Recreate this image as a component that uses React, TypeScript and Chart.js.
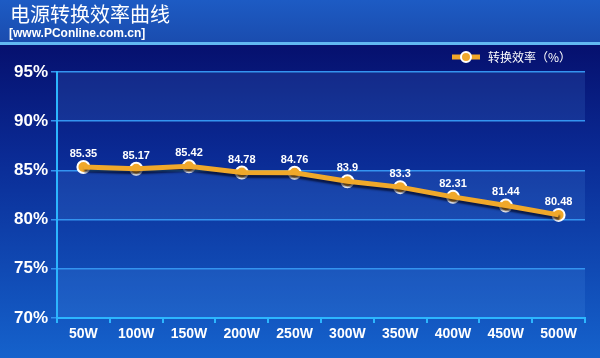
import React, { useEffect, useRef } from "react";
import { Chart, registerables } from "chart.js";

Chart.register(...registerables);

const categories = ["50W", "100W", "150W", "200W", "250W", "300W", "350W", "400W", "450W", "500W"];
const efficiency = [85.35, 85.17, 85.42, 84.78, 84.76, 83.9, 83.3, 82.31, 81.44, 80.48];
const yTicks = [70, 75, 80, 85, 90, 95];
const titleText = "电源转换效率曲线";
const subtitleText = "[www.PConline.com.cn]";
const seriesName = "转换效率（%）";

const LINE_COLOR = "#f0a82a";

const backgroundPlugin = {
  id: "bgPlugin",
  beforeDraw(chart: any) {
    const { ctx, width, height, chartArea } = chart;
    const yScale = chart.scales.y;
    ctx.save();
    const g = ctx.createLinearGradient(0, 44, 0, height);
    g.addColorStop(0, "#06106e");
    g.addColorStop(0.35, "#0a2a94");
    g.addColorStop(1, "#1562cc");
    ctx.fillStyle = g;
    ctx.fillRect(0, 0, width, height);
    // header
    const hg = ctx.createLinearGradient(0, 0, 0, 43);
    hg.addColorStop(0, "#1d5bc4");
    hg.addColorStop(1, "#1a4cae");
    ctx.fillStyle = hg;
    ctx.fillRect(0, 0, width, 42);
    ctx.fillStyle = "#62b8f2";
    ctx.fillRect(0, 42, width, 3);
    // alternating bands
    ctx.fillStyle = "rgba(110,175,255,0.13)";
    for (let i = 0; i < yTicks.length - 1; i++) {
      if ((yTicks.length - 2 - i) % 2 === 0) {
        const y1 = yScale.getPixelForValue(yTicks[i + 1]);
        const y0 = yScale.getPixelForValue(yTicks[i]);
        ctx.fillRect(chartArea.left, y1, chartArea.right - chartArea.left, y0 - y1);
      }
    }
    // titles
    ctx.fillStyle = "#ffffff";
    ctx.textBaseline = "alphabetic";
    ctx.textAlign = "left";
    ctx.font = "20px 'Noto Sans CJK SC'";
    ctx.fillText(titleText, 10, 22);
    ctx.font = "bold 12px 'Liberation Sans', Arial";
    ctx.fillText(subtitleText, 9, 37);
    // legend
    const ly = 57;
    ctx.strokeStyle = LINE_COLOR;
    ctx.lineWidth = 5;
    ctx.beginPath();
    ctx.moveTo(452, ly);
    ctx.lineTo(480, ly);
    ctx.stroke();
    ctx.beginPath();
    ctx.arc(466, ly, 5, 0, Math.PI * 2);
    ctx.fillStyle = LINE_COLOR;
    ctx.fill();
    ctx.lineWidth = 2;
    ctx.strokeStyle = "#ffffff";
    ctx.stroke();
    ctx.fillStyle = "#ffffff";
    ctx.font = "12px 'Noto Sans CJK SC'";
    ctx.textBaseline = "middle";
    ctx.fillText(seriesName, 488, ly);
    ctx.restore();
  },
  beforeDatasetDraw(chart: any, args: any) {
    const ctx = chart.ctx;
    ctx.save();
    if (args.index === 0) {
      ctx.shadowColor = "rgba(0,0,20,0.65)";
      ctx.shadowOffsetX = 1;
      ctx.shadowOffsetY = 3;
      ctx.shadowBlur = 2;
    }
  },
  afterDatasetDraw(chart: any) {
    chart.ctx.restore();
  },
  afterDatasetsDraw(chart: any) {
    const { ctx } = chart;
    const meta = chart.getDatasetMeta(1);
    ctx.save();
    ctx.fillStyle = "#ffffff";
    ctx.font = "bold 11px 'Liberation Sans', Arial";
    ctx.textAlign = "center";
    ctx.textBaseline = "alphabetic";
    meta.data.forEach((pt: any, i: number) => {
      ctx.fillText(String(efficiency[i]), pt.x, pt.y - 10);
    });
    ctx.restore();
  },
};

export default function App() {
  const ref = useRef<HTMLCanvasElement>(null);
  useEffect(() => {
    if (!ref.current) return;
    const chart = new Chart(ref.current, {
      type: "line",
      data: {
        labels: categories,
        datasets: [
          {
            label: seriesName,
            data: efficiency,
            borderColor: LINE_COLOR,
            borderWidth: 5,
            pointRadius: 0,
            tension: 0,
          },
          {
            label: seriesName,
            data: efficiency,
            showLine: false,
            backgroundColor: LINE_COLOR,
            borderColor: LINE_COLOR,
            pointBackgroundColor: LINE_COLOR,
            pointBorderColor: "#ffffff",
            pointBorderWidth: 2,
            pointRadius: 6,
          },
        ],
      },
      options: {
        responsive: false,
        animation: false,
        devicePixelRatio: 1,
        layout: { padding: { top: 72, right: 15, bottom: 0, left: 0 } },
        plugins: {
          legend: { display: false },
          tooltip: { enabled: false },
          title: { display: false },
        },
        scales: {
          x: {
            type: "category",
            offset: true,
            border: { color: "#2cb6ff", width: 2 },
            grid: {
              offset: true,
              drawOnChartArea: false,
              drawTicks: true,
              tickLength: 5,
              color: "#2cb6ff",
              lineWidth: 2,
            },
            ticks: {
              color: "#ffffff",
              font: { family: "'Liberation Sans', Arial", size: 14, weight: "bold" },
              padding: 3,
              maxRotation: 0,
            },
            afterFit(scale: any) {
              scale.height = 40;
            },
          },
          y: {
            min: 70,
            max: 95,
            border: { color: "#2cb6ff", width: 2 },
            grid: {
              color: "#3494f0",
              lineWidth: 1.5,
              drawTicks: true,
              tickLength: 6,
            },
            afterBuildTicks(scale: any) {
              scale.ticks = yTicks.map((v) => ({ value: v }));
            },
            ticks: {
              color: "#ffffff",
              padding: 3,
              font: { family: "'Liberation Sans', Arial", size: 17, weight: "bold" },
              callback: (v: any) => v + "%",
            },
            afterFit(scale: any) {
              scale.width = 57;
            },
          },
        },
      },
      plugins: [backgroundPlugin],
    } as any);
    return () => chart.destroy();
  }, []);
  return (
    <div style={{ position: "fixed", left: 0, top: 0, width: 600, height: 358 }}>
      <canvas ref={ref} width={600} height={358} style={{ display: "block" }} />
    </div>
  );
}
